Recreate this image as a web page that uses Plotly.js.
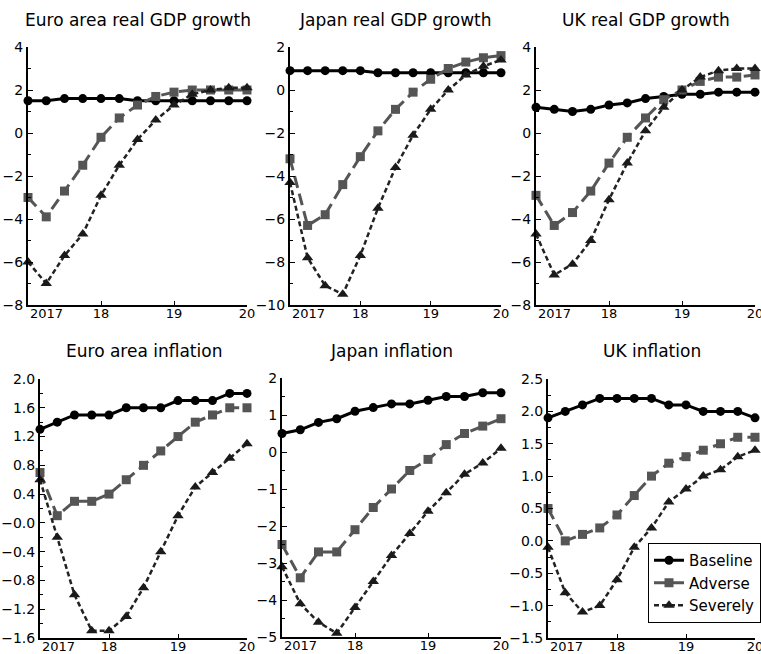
<!DOCTYPE html>
<html>
<head>
<meta charset="utf-8">
<script src="https://cdn.plot.ly/plotly-3.0.1.min.js"></script>
<style>html,body{margin:0;padding:0;background:#fff;}#chart{width:761px;height:654px;}</style>
</head>
<body>
<div id="chart"></div>
<script>
// Quarters 2017Q1 .. 2020Q1
const quarters = ['2017Q1','2017Q2','2017Q3','2017Q4','2018Q1','2018Q2','2018Q3','2018Q4','2019Q1','2019Q2','2019Q3','2019Q4','2020Q1'];
const xTickLabels = ['2017','18','19','20'];
const seriesNames = ['Baseline','Adverse','Severely'];
const panelTitles = ['Euro area real GDP growth','Japan real GDP growth','UK real GDP growth','Euro area inflation','Japan inflation','UK inflation'];

const euroGdpBaseline = [1.5,1.5,1.6,1.6,1.6,1.6,1.5,1.5,1.5,1.5,1.5,1.5,1.5];
const euroGdpAdverse  = [-3.0,-3.9,-2.7,-1.5,-0.2,0.7,1.3,1.7,1.9,2.0,2.0,2.0,2.0];
const euroGdpSevere   = [-6.0,-7.0,-5.7,-4.7,-2.9,-1.5,-0.3,0.6,1.3,1.8,2.0,2.1,2.1];

const japanGdpBaseline = [0.9,0.9,0.9,0.9,0.9,0.8,0.8,0.8,0.8,0.8,0.8,0.8,0.8];
const japanGdpAdverse  = [-3.2,-6.3,-5.8,-4.4,-3.1,-1.9,-0.9,-0.1,0.5,1.0,1.3,1.5,1.6];
const japanGdpSevere   = [-4.3,-7.8,-9.1,-9.5,-7.7,-5.5,-3.6,-2.1,-0.9,0.0,0.7,1.1,1.4];

const ukGdpBaseline = [1.2,1.1,1.0,1.1,1.3,1.4,1.6,1.7,1.8,1.8,1.9,1.9,1.9];
const ukGdpAdverse  = [-2.9,-4.3,-3.7,-2.7,-1.4,-0.2,0.7,1.55,2.0,2.4,2.6,2.6,2.7];
const ukGdpSevere   = [-4.7,-6.6,-6.1,-5.0,-3.1,-1.4,0.1,1.2,2.0,2.6,2.9,3.0,3.0];

const euroInfBaseline = [1.3,1.4,1.5,1.5,1.5,1.6,1.6,1.6,1.7,1.7,1.7,1.8,1.8];
const euroInfAdverse  = [0.7,0.1,0.3,0.3,0.4,0.6,0.8,1.0,1.2,1.4,1.5,1.6,1.6];
const euroInfSevere   = [0.6,-0.2,-1.0,-1.5,-1.5,-1.3,-0.9,-0.4,0.1,0.5,0.7,0.9,1.1];

const japanInfBaseline = [0.5,0.6,0.8,0.9,1.1,1.2,1.3,1.3,1.4,1.5,1.5,1.6,1.6];
const japanInfAdverse  = [-2.5,-3.4,-2.7,-2.7,-2.1,-1.5,-1.0,-0.5,-0.2,0.2,0.5,0.7,0.9];
const japanInfSevere   = [-3.1,-4.1,-4.6,-4.9,-4.2,-3.5,-2.8,-2.2,-1.6,-1.1,-0.6,-0.3,0.1];

const ukInfBaseline = [1.9,2.0,2.1,2.2,2.2,2.2,2.2,2.1,2.1,2.0,2.0,2.0,1.9];
const ukInfAdverse  = [0.5,0.0,0.1,0.2,0.4,0.7,1.0,1.2,1.3,1.4,1.5,1.6,1.6];
const ukInfSevere   = [-0.1,-0.8,-1.1,-1.0,-0.6,-0.1,0.2,0.6,0.8,1.0,1.1,1.3,1.4];

const yTickLabels = [
  ['\u22128','\u22126','\u22124','\u22122','0','2','4'],
  ['\u221210','\u22128','\u22126','\u22124','\u22122','0','2'],
  ['\u22128','\u22126','\u22124','\u22122','0','2','4'],
  ['\u22121.6','\u22121.2','\u22120.8','\u22120.4','\u22120.0','0.4','0.8','1.2','1.6','2.0'],
  ['\u22125','\u22124','\u22123','\u22122','\u22121','0','1','2'],
  ['\u22121.5','\u22121.0','\u22120.5','0.0','0.5','1.0','1.5','2.0','2.5']
];

const panelData = [
  [euroGdpBaseline, euroGdpAdverse, euroGdpSevere],
  [japanGdpBaseline, japanGdpAdverse, japanGdpSevere],
  [ukGdpBaseline, ukGdpAdverse, ukGdpSevere],
  [euroInfBaseline, euroInfAdverse, euroInfSevere],
  [japanInfBaseline, japanInfAdverse, japanInfSevere],
  [ukInfBaseline, ukInfAdverse, ukInfSevere]
];

// Layout / style configuration
const W = 761, H = 654;
const px = (a,b) => [a/W, b/W];
const py = (top,bot) => [1-bot/H, 1-top/H];
const panels = [
  {xd: px(28,247),  yd: py(47,305),  range:[-8,4],    minor:1,    tickvals:[-8,-6,-4,-2,0,2,4]},
  {xd: px(290,501), yd: py(47,305),  range:[-10,2],   minor:1,    tickvals:[-10,-8,-6,-4,-2,0,2]},
  {xd: px(536,755), yd: py(47,305),  range:[-8,4],    minor:1,    tickvals:[-8,-6,-4,-2,0,2,4]},
  {xd: px(40,247),  yd: py(379,638), range:[-1.6,2.0],minor:0.2,  tickvals:[-1.6,-1.2,-0.8,-0.4,0,0.4,0.8,1.2,1.6,2.0]},
  {xd: px(282,501), yd: py(378,637), range:[-5,2],    minor:0.5,  tickvals:[-5,-4,-3,-2,-1,0,1,2]},
  {xd: px(548,755), yd: py(379,638), range:[-1.5,2.5],minor:0.25, tickvals:[-1.5,-1,-0.5,0,0.5,1,1.5,2,2.5]}
];
const titleY = [20,20,20,351,351,351];

const styles = [
  {line:{color:'#000000', width:3, dash:'solid'}, marker:{symbol:'circle', size:9, color:'#000000'}},
  {line:{color:'#555555', width:3, dash:'12px,6px'}, marker:{symbol:'square', size:9, color:'#555555'}},
  {line:{color:'#222222', width:2.5, dash:'5px,3px'}, marker:{symbol:'triangle-up', size:10, color:'#1a1a1a'}}
];

const xIdx = quarters.map((q,i) => i);
const traces = [];
const layout = {
  width: W, height: H,
  margin: {l:0, r:0, t:0, b:0},
  paper_bgcolor: '#ffffff', plot_bgcolor: '#ffffff',
  font: {family: 'DejaVu Sans, sans-serif', color: '#000', size: 13},
  showlegend: true,
  legend: {
    x: 648/W, y: 1-543/H, xanchor: 'left', yanchor: 'top',
    bgcolor: '#ffffff', bordercolor: '#000', borderwidth: 1,
    font: {size: 15, family: 'DejaVu Sans, sans-serif', color:'#000'},
    itemwidth: 30, tracegroupgap: 0
  },
  annotations: []
};

panels.forEach((p, k) => {
  const n = k+1;
  const xa = 'x' + (n===1 ? '' : n), ya = 'y' + (n===1 ? '' : n);
  const xKey = 'xaxis' + (n===1 ? '' : n), yKey = 'yaxis' + (n===1 ? '' : n);
  panelData[k].forEach((vals, s) => {
    traces.push({
      type: 'scatter', mode: 'lines+markers',
      x: xIdx, y: vals, xaxis: xa, yaxis: ya,
      name: seriesNames[s], showlegend: k===0,
      line: styles[s].line, marker: styles[s].marker,
      cliponaxis: false
    });
  });
  layout[xKey] = {
    domain: p.xd, anchor: ya, range: [0, 12],
    showgrid: false, zeroline: false,
    showline: true, linecolor: '#000', linewidth: 2,
    ticks: 'inside', ticklen: 4, tickcolor: '#000', tickwidth: 1,
    tickmode: 'array', tickvals: [0,4,8,12], ticktext: ['', xTickLabels[1], xTickLabels[2], xTickLabels[3]],
    tickfont: {size: 13}, ticklabelstandoff: -5, ticklabeloverflow: 'allow', fixedrange: true
  };
  layout[yKey] = {
    domain: p.yd, anchor: xa, range: p.range,
    showgrid: false, zeroline: false,
    showline: true, linecolor: '#000', linewidth: 2,
    ticks: 'inside', ticklen: 5, tickcolor: '#000', tickwidth: 1,
    tickmode: 'array', tickvals: p.tickvals, ticktext: yTickLabels[k],
    minor: {ticks: 'inside', ticklen: 3, tickcolor:'#000', tickwidth: 1, tickmode:'linear', tick0: p.range[0], dtick: p.minor},
    tickfont: {size: 14}, ticklabeloverflow: 'allow', fixedrange: true
  };
  layout.annotations.push({
    text: xTickLabels[0], xref: xa, yref: ya + ' domain', x: 0, y: 0,
    xanchor: 'left', yanchor: 'top', yshift: 1, showarrow: false,
    font: {size: 13}
  });
  layout.annotations.push({
    text: panelTitles[k], xref: 'paper', yref: 'paper',
    x: (p.xd[0]+p.xd[1])/2, y: 1 - titleY[k]/H,
    xanchor: 'center', yanchor: 'middle', showarrow: false,
    font: {size: 17}
  });
});

Plotly.newPlot('chart', traces, layout, {displayModeBar: false, staticPlot: true});
</script>
</body>
</html>
